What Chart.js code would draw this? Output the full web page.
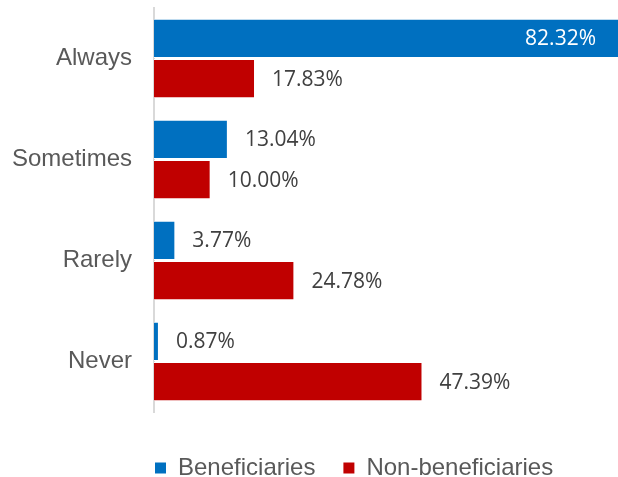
<!DOCTYPE html>
<html>
<head>
<meta charset="utf-8">
<title>Beneficiaries vs non-beneficiaries</title>
<script src="https://cdn.jsdelivr.net/npm/chart.js@4"></script>
<style>
  html, body { margin: 0; padding: 0; background: #ffffff; }
  canvas { display: block; }
</style>
</head>
<body>
<canvas id="chart" width="618" height="477"></canvas>
<script>
// Frequency categories and the share of each group (percent)
const categories = ['Always', 'Sometimes', 'Rarely', 'Never'];
const beneficiaries = [82.32, 13.04, 3.77, 0.87];
const nonBeneficiaries = [17.83, 10.00, 24.78, 47.39];
const seriesNames = ['Beneficiaries', 'Non-beneficiaries'];

const BLUE = '#0070C0';
const RED = '#C00000';
const AXIS_TEXT = '#595959';
const VALUE_TEXT = '#404040';
const SANS = '"Liberation Sans", Arial, sans-serif';
const VALUE_FONT = '21px "Open Sans", sans-serif';

// Percentage labels next to each bar; a bar running off the plot gets its label inside, in white
const valueLabels = {
  id: 'valueLabels',
  afterDatasetsDraw(chart) {
    const { ctx, chartArea } = chart;
    ctx.save();
    ctx.font = VALUE_FONT;
    ctx.textBaseline = 'middle';
    chart.data.datasets.forEach((ds, di) => {
      const meta = chart.getDatasetMeta(di);
      meta.data.forEach((bar, i) => {
        const text = ds.data[i].toFixed(2) + '%';
        const w = ctx.measureText(text).width;
        const outsideX = bar.x + 17;
        if (outsideX + w > chartArea.right) {
          ctx.fillStyle = '#FFFFFF';
          ctx.textAlign = 'right';
          ctx.fillText(text, Math.min(bar.x, chartArea.right) - 22, bar.y + 1);
        } else {
          ctx.fillStyle = VALUE_TEXT;
          ctx.textAlign = 'left';
          ctx.fillText(text, outsideX, bar.y + 1);
        }
      });
    });
    ctx.restore();
  }
};

// Start the legend under the value axis and lower it a little
const legendPlacement = {
  id: 'legendPlacement',
  afterLayout(chart) {
    const lg = chart.legend;
    const pad = lg.options.labels.padding;
    const dx = chart.chartArea.left + 1 - (lg.left + pad);
    lg.left += dx; lg.right += dx;
    lg.top += 16; lg.bottom += 16;
  }
};

new Chart(document.getElementById('chart'), {
  type: 'bar',
  data: {
    labels: categories,
    datasets: [
      { label: seriesNames[0], data: beneficiaries, backgroundColor: BLUE, borderColor: '#FFFFFF', borderWidth: 1 },
      { label: seriesNames[1], data: nonBeneficiaries, backgroundColor: RED, borderColor: '#FFFFFF', borderWidth: 1 }
    ]
  },
  options: {
    indexAxis: 'y',
    responsive: false,
    animation: false,
    events: [],
    categoryPercentage: 0.8,
    barPercentage: 0.97,
    layout: { padding: { top: 8, right: 0, bottom: 3, left: 0 } },
    scales: {
      x: { display: false, min: 0, max: 81.9 },
      y: {
        grid: { display: false, drawTicks: false },
        border: { display: true, color: '#D9D9D9', width: 2 },
        ticks: { color: AXIS_TEXT, font: { family: SANS, size: 24 }, padding: 22 },
        afterFit(scale) {
          scale.width = 154;
          scale.paddingTop = 0;
          scale.paddingBottom = 0;
        }
      }
    },
    plugins: {
      tooltip: { enabled: false },
      legend: {
        position: 'bottom',
        align: 'start',
        labels: {
          color: AXIS_TEXT,
          font: { family: SANS, size: 24 },
          boxWidth: 11,
          boxHeight: 11,
          padding: 28,
          generateLabels(chart) {
            return Chart.defaults.plugins.legend.labels.generateLabels(chart).map(item => {
              item.strokeStyle = item.fillStyle;
              item.lineWidth = 0;
              return item;
            });
          }
        }
      }
    }
  },
  plugins: [valueLabels, legendPlacement]
});
</script>
</body>
</html>
